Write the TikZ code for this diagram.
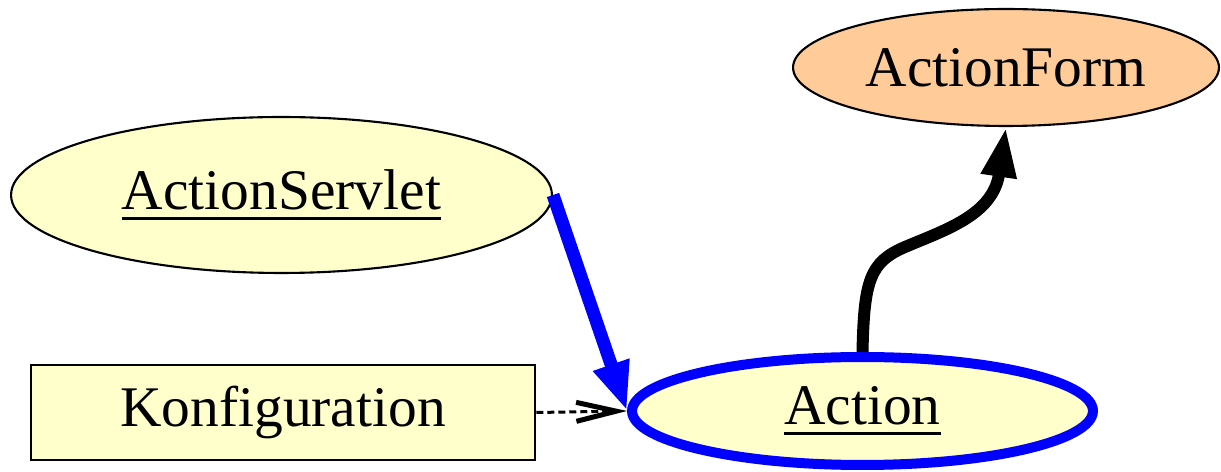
\documentclass[tikz,border=0pt]{standalone}
\usepackage{fontspec}
\setmainfont{Liberation Serif}
\usetikzlibrary{shapes.geometric, arrows.meta}
\definecolor{paleyellow}{HTML}{FFFFCC}
\definecolor{peach}{HTML}{FFCC99}
\newcommand{\undl}[1]{\setbox0\hbox{#1}\rlap{\vrule width\wd0 height -4pt depth 6.2pt}\box0}

\begin{document}
\begin{tikzpicture}[x=0.02cm, y=-0.02cm,
        every node/.style={font=\fontsize{32.7}{36}\selectfont, inner sep=0pt},
        blob/.style={ellipse, draw, line width=1.2pt, fill=paleyellow}]
    \useasboundingbox (0, 0) rectangle (1221, 472);
    \node[blob, minimum width=10.82cm, minimum height=3.12cm] (servlet) at (281.5, 195) {\undl{ActionServlet}};
    \node[blob, fill=peach, minimum width=8.52cm, minimum height=2.34cm] (form) at (1006, 67.5) {ActionForm};
    \node[draw, line width=1.5pt, fill=paleyellow, minimum width=10.08cm, minimum height=1.9cm] (konf) at (283, 412.5) {Konfiguration};
    \node[blob, draw=blue, line width=0.2cm, minimum width=9.22cm, minimum height=2.16cm] (action) at (862.5, 411) {\undl{Action}};
    \draw[line width=0.06cm, dash pattern=on 0.14cm off 0.08cm, -{Straight Barb[length=0.8cm, width=0.38cm, line width=0.1cm]}] (konf.east) -- (action.west);
    \draw[blue, line width=0.26cm, -{Triangle[length=0.98cm, width=0.7cm]}] (servlet.east) -- (action.west);
    \draw[line width=0.24cm, -{Triangle[length=1cm, width=0.66cm]}] (action.north) .. controls (864, 280) and (870, 262) .. (905, 247) .. controls (945, 230) and (993, 215) .. (form.south);
\end{tikzpicture}
\end{document}
